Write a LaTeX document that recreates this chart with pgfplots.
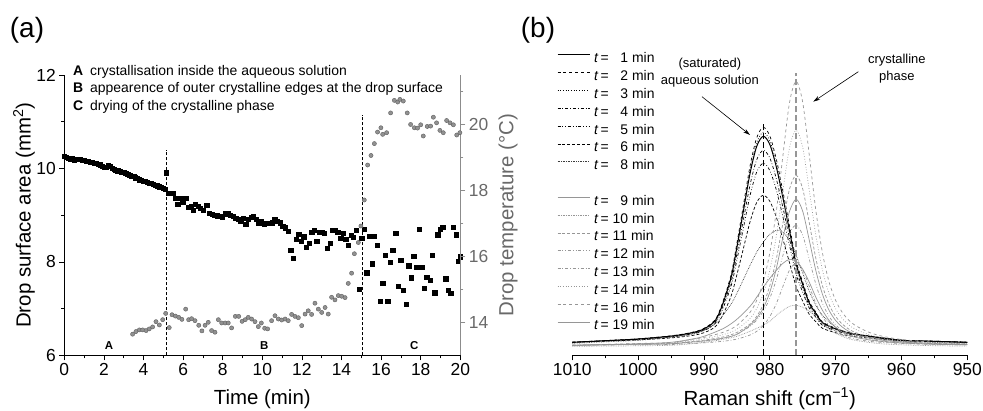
\documentclass[border=0pt]{standalone}
\usepackage{pgfplots}
\pgfplotsset{compat=1.18}
\usepackage{fontspec}
\setmainfont{Liberation Sans}
\usetikzlibrary{arrows.meta}
\definecolor{circfill}{RGB}{145,145,145}
\definecolor{circdraw}{RGB}{95,95,95}
\definecolor{raxis}{RGB}{140,140,140}
\definecolor{rtext}{RGB}{105,105,105}
\definecolor{gline}{RGB}{150,150,150}
\definecolor{dline}{RGB}{60,60,60}
\newcommand{\lt}[1]{\textit{t}\,= #1 min}
\begin{document}
\begin{tikzpicture}
\path[use as bounding box] (0bp,0bp) rectangle (983bp,411bp);
\node[font=\fontsize{28}{32}\selectfont] at (27bp,381bp) {(a)};
\node[font=\fontsize{28}{32}\selectfont] at (538bp,381bp) {(b)};

% ---------------- panel (a), left axis
\begin{axis}[
  at={(64.3bp,55.7bp)}, anchor=south west, scale only axis,
  width=396bp, height=280.3bp,
  xmin=0, xmax=20, ymin=6, ymax=12,
  axis x line*=bottom, axis y line*=left,
  axis line style={-, line width=0.8bp},
  tick align=outside,
  xtick={0,2,...,20}, minor xtick={1,3,...,19},
  ytick={6,8,10,12}, minor ytick={7,9,11},
  major tick length=5bp, minor tick length=3bp,
  every tick/.style={black, line width=0.7bp},
  /pgf/number format/assume math mode=true,
  ticklabel style={font=\fontsize{17.5}{20}\selectfont},
  xlabel={Time (min)}, ylabel={Drop surface area (mm\textsuperscript{2})},
  label style={font=\fontsize{20.5}{24}\selectfont},
  xlabel style={at={(axis description cs:0.5,-0.155)}, anchor=center},
  ylabel style={at={(axis description cs:-0.102,0.5)}, anchor=center},
  clip=false,
]
\addplot[only marks, mark=square*, mark size=2.1bp, black] coordinates {
(0.0,10.27)(0.1,10.24)(0.2,10.22)(0.3,10.19)(0.4,10.21)(0.5,10.18)(0.6,10.20)(0.7,10.19)(0.8,10.20)(0.9,10.17)(1.0,10.18)(1.1,10.16)(1.2,10.15)(1.3,10.14)(1.4,10.13)(1.5,10.12)(1.6,10.11)(1.7,10.09)(1.8,10.08)(1.9,10.05)(2.0,10.02)(2.1,10.03)(2.2,10.06)(2.3,10.05)(2.4,10.00)(2.5,9.98)(2.6,9.97)(2.7,9.95)(2.8,9.94)(2.9,9.92)(3.0,9.92)(3.1,9.90)(3.2,9.87)(3.3,9.86)(3.4,9.84)(3.5,9.83)(3.6,9.80)(3.7,9.79)(3.8,9.76)(3.9,9.75)(4.0,9.72)(4.1,9.72)(4.2,9.70)(4.3,9.68)(4.4,9.69)(4.5,9.66)(4.6,9.64)(4.7,9.63)(4.8,9.61)(4.9,9.60)(5.0,9.58)(5.1,9.56)(5.13,9.91)
(5.25,9.47)(5.47,9.47)(5.59,9.36)(5.73,9.24)(5.85,9.36)(5.98,9.27)(6.13,9.37)(6.26,9.17)(6.39,9.19)(6.53,9.10)(6.63,9.24)(6.77,9.20)(6.88,9.15)(7.02,9.10)(7.19,9.22)(7.31,9.05)(7.45,9.02)(7.58,9.00)(7.71,8.99)(7.85,8.98)(7.98,8.96)(8.12,9.03)(8.25,9.03)(8.39,9.00)(8.52,8.97)(8.66,8.94)(8.79,8.91)(8.91,8.88)(9.03,8.93)(9.16,8.80)(9.30,8.91)(9.43,8.96)(9.55,8.98)(9.68,8.91)(9.82,8.84)(9.95,8.87)(10.09,8.81)(10.22,8.83)(10.36,8.82)(10.49,8.84)(10.63,8.91)(10.76,8.87)(10.90,8.84)(11.03,8.77)(11.17,8.73)(11.30,8.66)
(11.43,8.25)(11.55,8.07)(11.70,8.48)(11.84,8.60)(11.95,8.45)(12.09,8.54)(12.21,8.32)(12.36,8.40)(12.49,8.64)(12.63,8.67)(12.75,8.45)(12.87,8.64)(13.00,8.63)(13.14,8.61)(13.29,8.30)(13.42,8.40)(13.54,8.67)(13.67,8.68)(13.81,8.63)(13.96,8.51)(14.08,8.62)(14.21,8.48)(14.35,8.35)(14.48,8.57)(14.61,8.53)(14.75,8.67)(14.88,7.42)(15.02,8.50)(15.15,8.70)(15.27,7.77)(15.40,8.55)(15.54,7.96)(15.67,8.55)(15.79,8.35)(15.94,7.15)(16.08,7.55)(16.20,8.14)(16.33,7.15)(16.45,8.00)(16.59,8.25)(16.74,8.62)(16.86,7.48)(16.99,8.04)(17.12,7.40)(17.26,7.10)(17.39,7.92)(17.51,7.66)(17.65,8.12)(17.80,7.89)(17.92,8.70)(18.05,7.89)(18.19,7.44)(18.30,7.68)(18.46,7.61)(18.57,8.15)(18.71,7.34)(18.86,8.58)(18.97,8.70)(19.11,8.75)(19.26,7.64)(19.37,7.40)(19.51,7.33)(19.63,8.74)(19.78,8.58)(19.91,8.02)(20.01,8.11)
};
\addplot[black, line width=0.7bp, dash pattern=on 3bp off 2bp] coordinates {(5.14,6) (5.14,10.39)};
\addplot[black, line width=0.7bp, dash pattern=on 3bp off 2bp] coordinates {(15.03,6) (15.03,11.14)};
\begin{scope}[every node/.style={font=\fontsize{14}{16}\selectfont, anchor=west, inner sep=0pt}]
\node at (axis cs:0.44,12.064) {\makebox[17bp][l]{\textbf{A}}crystallisation inside the aqueous solution};
\node at (axis cs:0.44,11.70) {\makebox[17bp][l]{\textbf{B}}appearence of outer crystalline edges at the drop surface};
\node at (axis cs:0.44,11.31) {\makebox[17bp][l]{\textbf{C}}drying of the crystalline phase};
\end{scope}
\begin{scope}[every node/.style={font=\bfseries\fontsize{11.5}{13}\selectfont, inner sep=0pt}]
\node at (axis cs:2.26,6.2) {A};
\node at (axis cs:10.1,6.2) {B};
\node at (axis cs:17.68,6.2) {C};
\end{scope}
\end{axis}

% ---------------- panel (a), right axis
\begin{axis}[
  at={(64.3bp,55.7bp)}, anchor=south west, scale only axis,
  width=396bp, height=280.3bp,
  xmin=0, xmax=20, ymin=13, ymax=21.5,
  axis x line=none, axis y line*=right,
  axis line style={-, raxis, line width=1.4bp},
  tick align=outside,
  ytick={14,16,18,20}, minor ytick={15,17,19,21},
  major tick length=5bp, minor tick length=3bp,
  every tick/.style={raxis, line width=0.8bp},
  /pgf/number format/assume math mode=true,
  yticklabel style={font=\fontsize{17.5}{20}\selectfont, text=rtext},
  ylabel={Drop temperature (°C)},
  ylabel style={font=\fontsize{20.5}{24}\selectfont, text=rtext, at={(axis description cs:1.1205,0.5)}, anchor=center},
  clip=false,
]
\addplot[only marks, mark=*, mark size=2.1bp, mark options={draw=circdraw, fill=circfill, line width=0.4bp}] coordinates {
(3.45,13.64)(3.62,13.72)(3.79,13.77)(3.96,13.77)(4.13,13.75)(4.29,13.80)(4.46,13.86)(4.63,14.02)(4.80,13.92)(4.97,14.08)(5.12,14.27)(5.30,13.84)(5.44,14.23)(5.61,14.19)(5.78,14.15)(5.94,14.09)(6.13,14.40)(6.28,14.08)(6.43,14.11)(6.60,14.05)(6.79,13.91)(6.95,13.74)(7.11,13.91)(7.27,14.00)(7.44,13.75)(7.61,13.70)(7.78,14.08)(7.95,13.98)(8.12,13.98)(8.28,13.98)(8.45,13.83)(8.64,14.18)(8.81,14.18)(8.98,14.03)(9.14,14.08)(9.29,14.15)(9.46,14.10)(9.63,14.02)(9.80,13.87)(9.95,13.98)(10.12,13.82)(10.27,13.80)(10.47,14.05)(10.64,14.20)(10.81,14.10)(10.98,14.07)(11.15,14.10)(11.31,14.05)(11.48,14.24)(11.65,14.18)(11.82,14.14)(11.99,13.90)(12.16,14.25)(12.32,14.35)(12.49,14.24)(12.66,14.58)(12.83,14.40)(13.00,14.30)(13.17,14.45)(13.33,14.25)(13.50,14.76)(13.67,14.68)(13.84,14.81)(14.01,14.79)(14.18,14.75)(14.34,15.18)(14.51,15.49)(14.65,16.08)(14.85,16.42)(14.98,16.92)(15.15,17.71)(15.32,18.77)(15.49,19.06)(15.66,19.42)(15.82,19.77)(15.99,19.90)(16.08,19.70)(16.28,19.75)(16.48,20.35)(16.67,20.73)(16.84,20.68)(16.95,20.76)(17.12,20.71)(17.32,20.35)(17.49,20.00)(17.68,19.90)(17.84,19.89)(18.00,19.99)(18.13,19.65)(18.33,19.94)(18.50,19.95)(18.64,20.22)(18.80,20.05)(18.97,19.82)(19.14,19.75)(19.31,20.12)(19.48,20.05)(19.65,19.99)(19.82,19.68)(19.98,19.75)
};
\end{axis}

% ---------------- panel (b)
\begin{axis}[
  at={(572.3bp,55.7bp)}, anchor=south west, scale only axis,
  width=395bp, height=280.3bp,
  xmin=950, xmax=1010, x dir=reverse, ymin=0, ymax=280.3,
  axis x line*=bottom, axis y line=none,
  axis line style={-, line width=0.8bp},
  tick align=outside,
  xtick={950,960,...,1010}, minor xtick={955,965,...,1005},
  major tick length=5bp, minor tick length=3bp,
  every tick/.style={black, line width=0.7bp},
  /pgf/number format/assume math mode=true,
  /pgf/number format/1000 sep={},
  ticklabel style={font=\fontsize{17.5}{20}\selectfont},
  xlabel={Raman shift (cm\textsuperscript{−1})},
  xlabel style={font=\fontsize{20.5}{24}\selectfont, at={(axis description cs:0.5,-0.155)}, anchor=center},
  clip=false,
  legend style={draw=none, fill=none, at={(axis description cs:-0.0387,1.0785)}, anchor=north west,
    font=\fontsize{14}{16}\selectfont, inner sep=0pt, outer sep=0pt, row sep=4.8bp, column sep=4bp,
    nodes={inner sep=0pt, text height=10bp, text depth=3bp}},
  legend cell align=left,
  legend image code/.code={\draw[#1] (0bp,4.5bp) -- (32bp,4.5bp);},
  every axis plot/.append style={line width=0.7bp},
]
\addplot[black, smooth, line width=1bp] coordinates {(1010,13)(1005,14.6)(1000,16.3)(995,19.2)(992,22.3)(990,26.4)(988,37.7)(986,74.8)(985,107.8)(984,144.8)(983,181.9)(982,208.7)(981,219)(980,210.8)(979,188.1)(978,157.2)(977,124.2)(976,91.3)(975,70.7)(974,52.1)(973,41.8)(972,32.6)(970,26.4)(968,22.3)(965,19.2)(960,15.1)(955,14)(950,13)};
\addlegendentry{\lt{\phantom{0}1}}
\addplot[black, smooth, dashed] coordinates {(1010,13)(1005,14.7)(1000,16.4)(995,19.5)(992,22.7)(990,27)(988,38.8)(986,77.5)(985,111.9)(984,150.6)(983,189.3)(982,217.3)(981,228)(980,219.4)(979,195.8)(978,163.5)(977,129.1)(976,94.7)(975,73.2)(974,53.9)(973,43.1)(972,33.4)(970,27)(968,22.7)(965,19.5)(960,15.2)(955,14.1)(950,13)};
\addlegendentry{\lt{\phantom{0}2}}
\addplot[black, smooth, dotted] coordinates {(1010,13)(1005,14.7)(1000,16.4)(995,19.3)(992,22.5)(990,26.7)(988,38.2)(986,76)(985,109.6)(984,147.4)(983,185.2)(982,212.5)(981,223)(980,214.6)(979,191.5)(978,160)(977,126.4)(976,92.8)(975,71.8)(974,52.9)(973,42.4)(972,33)(970,26.7)(968,22.5)(965,19.3)(960,15.1)(955,14.1)(950,13)};
\addlegendentry{\lt{\phantom{0}3}}
\addplot[black, smooth, dash dot] coordinates {(1010,13)(1005,14.5)(1000,16.1)(995,18.8)(992,21.6)(990,25.5)(988,36)(986,70.6)(985,101.3)(984,135.9)(983,170.4)(982,195.4)(981,205)(980,197.3)(979,176.2)(978,147.4)(977,116.7)(976,86)(975,66.8)(974,49.5)(973,39.9)(972,31.2)(970,25.5)(968,21.6)(965,18.8)(960,14.9)(955,14)(950,13)};
\addlegendentry{\lt{\phantom{0}4}}
\addplot[black, smooth, dash dot dot] coordinates {(1010,13)(1005,14.4)(1000,15.9)(995,18.4)(992,21.1)(990,24.6)(988,34.5)(986,66.7)(985,95.3)(984,127.6)(983,159.8)(982,183.1)(981,192)(980,184.8)(979,165.2)(978,138.3)(977,109.7)(976,81)(975,63.1)(974,47)(973,38.1)(972,30)(970,24.6)(968,21.1)(965,18.4)(960,14.8)(955,13.9)(950,13)};
\addlegendentry{\lt{\phantom{0}5}}
\addplot[black, smooth, densely dashed] coordinates {(1010,13)(1005,14.2)(1000,15.4)(995,17.4)(992,19.6)(990,22.6)(988,30.6)(986,57.1)(985,80.6)(984,107.1)(983,133.5)(982,152.7)(981,160)(980,154.1)(979,138)(978,115.9)(977,92.4)(976,68.9)(975,54.2)(974,40.9)(973,33.6)(972,27)(970,22.6)(968,19.6)(965,17.4)(960,14.5)(955,13.7)(950,13)};
\addlegendentry{\lt{\phantom{0}6}}
\addplot[dline, smooth, densely dotted] coordinates {(1010,12)(1005,13.5)(1000,15)(995,18)(992,21)(990,25)(988,33)(986,50)(985,62)(984,76)(983,90)(982,103)(981,113)(980,121)(979,125)(978,123)(977,115)(976,100)(975,82)(974,64)(973,50)(972,40)(970,28)(968,22)(965,18)(960,14)(955,13)(950,12)};
\addlegendentry{\lt{\phantom{0}8}}
\addlegendimage{empty legend}
\addlegendentry{}
\addplot[gline, smooth] coordinates {(1010,10)(1000,11.5)(995,13)(992,16)(990,19)(987,27)(985,36)(983,49)(982,58)(981,68)(980,77)(979,85)(978,92)(977,96)(976,94)(975,86)(974,73)(973,58)(972,45)(971,35)(970,28)(969,23)(968,20)(967,18)(965,15.5)(963,13.8)(960,12.3)(955,11)(950,10.5)};
\addlegendentry{\lt{\phantom{0}9}}
\addplot[gline, smooth, densely dotted] coordinates {(1010,9)(1000,9.5)(995,10)(992,11.5)(990,13)(987,16)(985,19)(983,24)(982,27)(981,30)(980,34)(979,40)(978,45)(977,49)(976,50)(975,48)(974,44)(973,38)(972,32)(971,26)(970,22)(969,19)(968,16.5)(967,15)(965,13)(963,11.5)(960,10.5)(955,9.6)(950,9.2)};
\addlegendentry{\lt{10}}
\addplot[gline, smooth, densely dashed] coordinates {(1010,10)(1000,11.2)(995,11.7)(992,13.7)(990,15.1)(987,18.5)(985,22.8)(983,31.3)(982,38.9)(981,50.8)(980,69.5)(979,96.7)(978,132.4)(977,166.4)(976,180)(975,166.4)(974,132.4)(973,96.7)(972,69.5)(971,50.8)(970,38.9)(969,31.3)(968,26.2)(967,22.8)(965,18.5)(963,16)(960,13.7)(955,11.9)(950,10.9)};
\addlegendentry{\lt{11}}
\addplot[gline, smooth, dash dot dot] coordinates {(1010,10)(1000,11)(995,11.6)(992,13)(990,14)(987,17)(985,21)(983,29)(982,35)(981,44)(980,57)(979,76)(978,100)(977,122)(976,130)(975,120)(974,96)(973,71)(972,52)(971,39)(970,30.4)(969,25)(968,21.4)(967,19)(965,16)(963,14.2)(960,12.6)(955,11.3)(950,10.6)};
\addlegendentry{\lt{12}}
\addplot[gline, smooth, dash dot] coordinates {(1010,10)(1000,10.6)(995,10.8)(992,11.8)(990,12.5)(987,14.1)(985,16.2)(983,20.3)(982,23.9)(981,29.7)(980,38.7)(979,51.8)(978,69)(977,85.4)(976,92)(975,85.4)(974,69)(973,51.8)(972,38.7)(971,29.7)(970,23.9)(969,20.3)(968,17.8)(967,16.2)(965,14.1)(963,12.9)(960,11.8)(955,10.9)(950,10.4)};
\addlegendentry{\lt{13}}
\addplot[gline, smooth, dotted] coordinates {(1010,10)(1000,11.5)(995,12.2)(992,14.7)(990,16.5)(987,20.8)(985,26.1)(983,36.9)(982,46.6)(981,61.6)(980,85.3)(979,119.7)(978,164.8)(977,207.8)(976,225)(975,207.8)(974,164.8)(973,119.7)(972,85.3)(971,61.6)(970,46.6)(969,36.9)(968,30.4)(967,26.1)(965,20.8)(963,17.5)(960,14.7)(955,12.4)(950,11.1)};
\addlegendentry{\lt{14}}
\addplot[gline, smooth, dashed] coordinates {(1010,10)(1000,11.8)(995,12.6)(992,15.8)(990,17.9)(987,23.2)(985,29.8)(983,43)(982,54.9)(981,73.4)(980,102.4)(979,144.6)(978,200.1)(977,252.9)(976,274)(975,252.9)(974,200.1)(973,144.6)(972,102.4)(971,73.4)(970,54.9)(969,43)(968,35.1)(967,29.8)(965,23.2)(963,19.2)(960,15.8)(955,12.9)(950,11.3)};
\addlegendentry{\lt{16}}
\addplot[gline, smooth] coordinates {(1010,10)(1000,11)(995,11.5)(992,13.2)(990,14.4)(987,17.3)(985,21)(983,30)(982,37)(981,47)(980,63)(979,87)(978,118)(977,144)(976,156)(975,144)(974,115)(973,84.5)(972,61)(971,45)(970,34.8)(969,28.3)(968,23.9)(967,21)(965,17.3)(963,15.1)(960,13.2)(955,11.6)(950,10.7)};
\addlegendentry{\lt{19}}
\addplot[black, line width=1.4bp, dash pattern=on 6bp off 3bp, forget plot] coordinates {(981,0) (981,233.6)};
\addplot[gline, line width=1.3bp, dash pattern=on 6bp off 3bp, forget plot] coordinates {(976,0) (976,282.3)};
\node[font=\fontsize{13}{17.7}\selectfont, align=center] at (axis cs:989.1,282.5) {(saturated)\\aqueous solution};
\node[font=\fontsize{13}{17.4}\selectfont, align=center] at (axis cs:960.7,286.8) {crystalline\\phase};
\draw[-{Stealth[length=7bp,width=4bp]}, line width=0.6bp] (axis cs:990.3,258.6) -- (axis cs:983.0,220.3);
\draw[-{Stealth[length=7bp,width=4bp]}, line width=0.6bp] (axis cs:966.55,283.6) -- (axis cs:973.4,253.6);
\end{axis}
\end{tikzpicture}
\end{document}
